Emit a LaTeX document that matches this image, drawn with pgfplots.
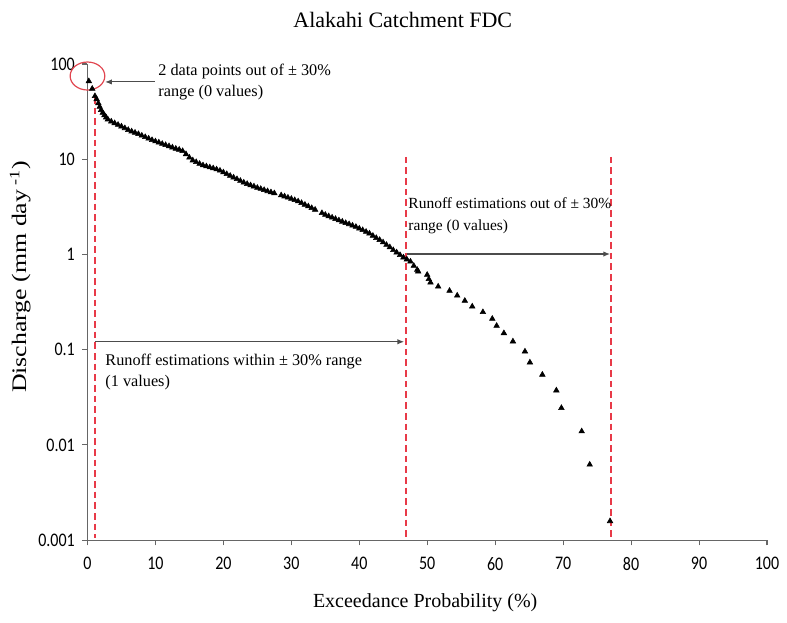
\documentclass[border=0pt]{standalone}
\usepackage{pgfplots}
\pgfplotsset{compat=1.18}
\usepackage{pgfplotstable}
\usepackage{fontspec}
\setmainfont{Liberation Serif}
\newfontfamily\carlito{Carlito}
\usetikzlibrary{arrows.meta}
\definecolor{dashred}{RGB}{232,58,72}
\definecolor{circred}{RGB}{225,70,80}

\pgfplotstableread{
x y
0.2 66
0.7 55
1.1 46
1.35 42.7
1.6 38.7
1.8 35.5
2.0 32.8
2.25 30.8
2.5 29.0
2.75 27.5
3.0 26.2
3.5 24.9
4.0 23.9
4.5 23.0
5.0 22.1
5.5 21.2
6.0 20.3
6.5 19.6
7.0 19.0
7.5 18.4
8.0 17.7
8.5 17.1
9.0 16.5
9.5 15.9
10.0 15.4
10.5 15.0
11.0 14.5
11.5 14.1
12.0 13.7
12.5 13.3
13.0 12.9
13.5 12.6
14.0 12.2
14.5 11.3
15.0 10.4
15.5 9.72
16.0 9.33
16.5 8.95
17.0 8.63
17.5 8.43
18.0 8.22
18.5 8.03
19.0 7.83
19.5 7.59
20.0 7.28
20.5 6.98
21.0 6.70
21.5 6.43
22.0 6.18
22.5 5.93
23.0 5.69
23.5 5.50
24.0 5.33
24.5 5.18
25.0 5.01
25.5 4.88
26.0 4.75
26.5 4.62
27.0 4.50
27.5 4.39
28.5 4.18
29.0 4.07
29.5 3.95
30.0 3.84
30.5 3.72
31.0 3.61
31.5 3.47
32.0 3.33
32.5 3.20
33.0 3.07
33.5 2.95
34.5 2.72
35.0 2.61
35.5 2.52
36.0 2.44
36.5 2.36
37.0 2.28
37.5 2.21
38.0 2.14
38.5 2.08
39.0 2.01
39.5 1.95
40.0 1.87
40.5 1.80
41.0 1.73
41.5 1.66
42.0 1.57
42.5 1.49
43.0 1.42
43.5 1.34
44.0 1.26
44.5 1.19
45.0 1.11
45.5 1.05
46.0 0.986
46.5 0.93
47.0 0.887
47.53 0.842
48.02 0.759
48.52 0.689
48.67 0.662
49.99 0.611
50.23 0.551
50.48 0.507
51.61 0.460
53.28 0.415
54.41 0.370
55.53 0.326
56.62 0.284
58.19 0.248
59.57 0.211
60.21 0.178
61.28 0.149
62.61 0.122
64.38 0.0957
65.11 0.0734
66.94 0.0546
69.0 0.0373
69.74 0.0244
72.73 0.01387
73.91 0.0062
76.9 0.00158
}\fdcdata

\begin{document}
\begin{tikzpicture}
\begin{axis}[
  scale only axis,
  width=509.6pt, height=357pt,
  ymode=log,
  xmin=0, xmax=100, ymin=0.001, ymax=100,
  axis lines=left,
  axis line style={-, black!60, line width=0.8pt},
  tick align=outside,
  major tick length=4pt,
  tick style={black!60, line width=0.8pt},
  minor y tick style={draw=none},
  xtick={0,10,...,100},
  xticklabels={0,10,20,30,40,50,60,70,80,90,100},
  ytick={0.001,0.01,0.1,1,10,100},
  yticklabels={0.001,0.01,0.1,1,10,100},
  ticklabel style={font=\carlito\fontsize{12}{14}\selectfont, black, yscale=1.2},
  xticklabel style={yshift=-4pt},
  yticklabel style={xshift=-2pt},
  xlabel={Exceedance Probability (\%)},
  xlabel style={at={(axis description cs:0.497,-0.132)}, anchor=center, inner sep=0pt, font=\fontsize{15}{18}\selectfont},
  ylabel={Discharge (mm day\textsuperscript{ -1})},
  ylabel style={at={(axis description cs:-0.099,0.553)}, anchor=center, inner sep=0pt, font=\fontsize{15.5}{18}\selectfont, xscale=1.25},
  clip=false,
]
% dashed red vertical lines
\addplot[dashred, line width=1.3pt, dash pattern=on 5pt off 3pt] coordinates {(1.1,45) (1.1,0.00105)};
\addplot[dashred, line width=1.3pt, dash pattern=on 5pt off 3pt] coordinates {(46.85,10.6) (46.85,0.00105)};
\addplot[dashred, line width=1.3pt, dash pattern=on 5pt off 3pt] coordinates {(77.0,10.6) (77.0,0.00105)};
% data
\addplot[only marks, mark=triangle*, mark size=2.4pt, black] table[x=x, y=y] {\fdcdata};
% circle
\draw[circred, line width=0.9pt] (axis cs:0,74.8) ellipse [x radius=13pt, y radius=10.5pt];
% arrows
\draw[-{Latex[length=5pt,width=4pt]}, black!70, line width=0.8pt] (axis cs:9.9,64.8) -- (axis cs:2.6,64.8);
\draw[-{Latex[length=5pt,width=4pt]}, black!70, line width=0.8pt] (axis cs:47.0,1.01) -- (axis cs:76.9,1.01);
\draw[-{Latex[length=5pt,width=4pt]}, black!70, line width=0.8pt] (axis cs:1.1,0.121) -- (axis cs:46.6,0.121);
% annotation texts
\node[anchor=west, align=left, inner sep=0pt, font=\fontsize{12.2}{16}\selectfont] at (axis cs:10.4,64.8) {2 data points out of ± 30\%\\range (0 values)};
\node[anchor=west, align=left, inner sep=0pt, font=\fontsize{11.6}{16}\selectfont] at (axis cs:47.2,2.54) {Runoff estimations out of ± 30\%\\range (0 values)};
\node[anchor=west, align=left, inner sep=0pt, font=\fontsize{12.2}{16}\selectfont] at (axis cs:2.6,0.0586) {Runoff estimations within ± 30\% range\\(1 values)};
% title
\node[anchor=center, inner sep=0pt, font=\fontsize{16.5}{19}\selectfont] at (rel axis cs:0.464,1.092) {Alakahi Catchment FDC};
\end{axis}
\path (current axis.south west) ++(-65.6pt,-61.5pt) coordinate (bbA);
\path (current axis.north east) ++(15pt,48pt) coordinate (bbB);
\path (bbA) rectangle (bbB);
\end{tikzpicture}
\end{document}
